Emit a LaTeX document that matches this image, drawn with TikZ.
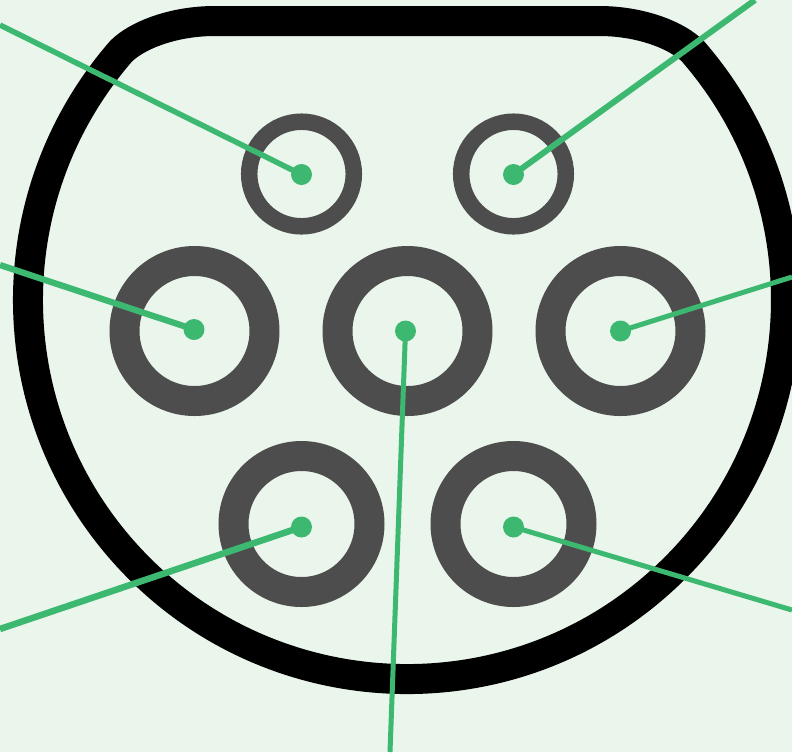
\documentclass[tikz,border=0pt]{standalone}
\usepackage{xcolor}
\usepackage{tikz}
\usetikzlibrary{calc}
\definecolor{bgmint}{RGB}{234, 245, 236}
\definecolor{pingreen}{RGB}{60, 184, 112}
\definecolor{ringgray}{RGB}{77, 77, 77}
\tikzset{
    pindot/.style={circle, fill=pingreen, inner sep=0pt, minimum size=0.42cm},
    pinline/.style={pingreen, line width=#1},
    pinline/.default=0.11cm,
    bigring/.style={ringgray, line width=0.6cm},
    smallring/.style={ringgray, line width=0.33cm}
}

\begin{document}
\begin{tikzpicture}[x=0.02cm, y=-0.02cm]
    % Background
    \fill[bgmint] (0,0) rectangle (792,752);
    \useasboundingbox (0,0) rectangle (792,752);

    % Outer socket outline
    \begin{scope}
    \clip (0,0) rectangle (792,752);
    \draw[black, line width=0.6cm, line join=round]
        (215,21) -- (599,21)
        .. controls (642,21) and (678,36) .. (693,51.4)
        arc[start angle=-41, end angle=221, radius=379]
        .. controls (136,36) and (172,21) .. (215,21) -- cycle;
    \end{scope}

    % Contact rings
    \draw[smallring] (301.5,174) circle[radius=52.3];
    \draw[smallring] (513.5,174) circle[radius=52.3];
    \draw[bigring] (194.5,331) circle[radius=70];
    \draw[bigring] (407.5,331) circle[radius=70];
    \draw[bigring] (620.5,331) circle[radius=70];
    \draw[bigring] (301.5,524) circle[radius=68];
    \draw[bigring] (513.5,524) circle[radius=68];

    % Pin markers
    \node[pindot] (pinA) at (301.5,174.5) {};
    \node[pindot] (pinB) at (513.5,174.5) {};
    \node[pindot] (pinC) at (194,329.5) {};
    \node[pindot] (pinD) at (405.5,331) {};
    \node[pindot] (pinE) at (620.5,331) {};
    \node[pindot] (pinF) at (301.5,527) {};
    \node[pindot] (pinG) at (513.5,527) {};

    % Free ends of the leaders
    \coordinate (endA) at (0,25);
    \coordinate (endB) at (755,0);
    \coordinate (endC) at (0,265);
    \coordinate (endD) at (390,752);
    \coordinate (endE) at (792,277);
    \coordinate (endF) at (0,629);
    \coordinate (endG) at (792,610);

    % Leaders
    \foreach \p/\q/\w in {pinA/endA/0.11cm, pinB/endB/0.12cm, pinC/endC/0.125cm, pinD/endD/0.1cm, pinE/endE/0.1cm, pinF/endF/0.13cm, pinG/endG/0.1cm}
        \draw[pinline=\w] (\p.center) -- (\q);
\end{tikzpicture}
\end{document}
